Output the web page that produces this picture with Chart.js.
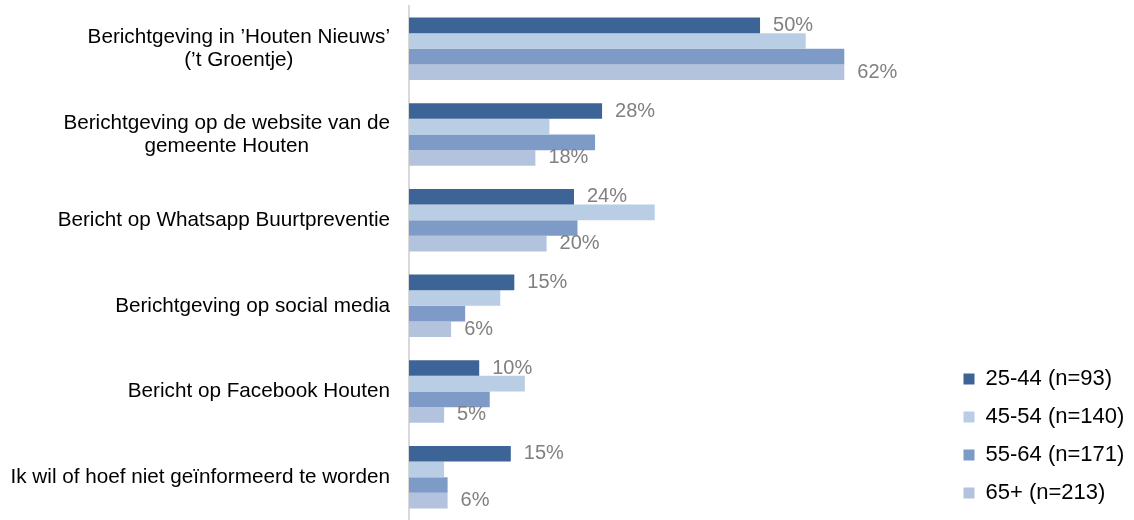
<!DOCTYPE html>
<html>
<head>
<meta charset="utf-8">
<script src="https://cdn.jsdelivr.net/npm/chart.js@4"></script>
<style>
  html, body { margin: 0; padding: 0; background: #fff; overflow: hidden; }
  #wrap { position: relative; width: 1134px; height: 520px; }
</style>
</head>
<body>
<div id="wrap"><canvas id="chart"></canvas></div>
<script>
const categories = [
  ["Berichtgeving in \u2019Houten Nieuws\u2019", "(\u2019t Groentje)"],
  ["Berichtgeving op de website van de", "gemeente Houten"],
  ["Bericht op Whatsapp Buurtpreventie"],
  ["Berichtgeving op social media"],
  ["Bericht op Facebook Houten"],
  ["Ik wil of hoef niet ge\u00efnformeerd te worden"]
];
const seriesNames = ["25-44 (n=93)", "45-54 (n=140)", "55-64 (n=171)", "65+ (n=213)"];
const age2544 = [50, 27.5, 23.5, 15, 10, 14.5];
const age4554 = [56.5, 20, 35, 13, 16.5, 5];
const age5564 = [62, 26.5, 24, 8, 11.5, 5.5];
const age65plus = [62, 18, 19.6, 6, 5, 5.5];
const seriesColors = ["#3c6497", "#b9cde5", "#7e9bc8", "#b3c3de"];
// only the outer series carry value labels
const labelledSeries = [0, 3];

const FONT = "'Liberation Sans', Arial, sans-serif";

// category labels: right-aligned block, lines centred inside it
const categoryLabels = {
  id: 'categoryLabels',
  afterDraw(chart) {
    const ctx = chart.ctx;
    const y = chart.scales.y;
    const right = chart.chartArea.left - 19;
    ctx.save();
    ctx.font = "20.7px " + FONT;
    ctx.fillStyle = "#000";
    ctx.textAlign = "center";
    ctx.textBaseline = "middle";
    categories.forEach((lines, i) => {
      const cy = y.getPixelForValue(i);
      const maxW = Math.max(...lines.map(l => ctx.measureText(l).width));
      const cx = right - maxW / 2;
      lines.forEach((l, j) => {
        ctx.fillText(l, cx, cy + (j - (lines.length - 1) / 2) * 23);
      });
    });
    ctx.restore();
  }
};

// value labels at bar ends
const valueLabels = {
  id: 'valueLabels',
  afterDatasetsDraw(chart) {
    const ctx = chart.ctx;
    ctx.save();
    ctx.font = "20px " + FONT;
    ctx.fillStyle = "#808080";
    ctx.textAlign = "left";
    ctx.textBaseline = "middle";
    labelledSeries.forEach(di => {
      const meta = chart.getDatasetMeta(di);
      meta.data.forEach((bar, i) => {
        const v = chart.data.datasets[di].data[i];
        ctx.fillText(Math.round(v) + "%", bar.x + 13, bar.y);
      });
    });
    ctx.restore();
  }
};

const seriesData = [age2544, age4554, age5564, age65plus];

new Chart(document.getElementById('chart'), {
  type: 'bar',
  data: {
    labels: categories.map(c => c.join(' ')),
    datasets: seriesNames.map((name, i) => ({
      label: name,
      data: seriesData[i],
      backgroundColor: seriesColors[i],
      borderWidth: 0,
      categoryPercentage: 0.73,
      barPercentage: 1.0
    }))
  },
  options: {
    indexAxis: 'y',
    responsive: true,
    maintainAspectRatio: false,
    animation: false,
    layout: { padding: { left: 409, top: 6, bottom: 0, right: 7 } },
    scales: {
      x: { display: false, min: 0, max: 76.7 },
      y: {
        ticks: { display: false },
        grid: { display: false, drawTicks: false },
        border: { display: true, color: '#d9d9d9', width: 2 }
      }
    },
    plugins: {
      legend: {
        position: 'right',
        align: 'end',
        labels: {
          font: { family: FONT, size: 22 },
          color: '#000',
          boxWidth: 11,
          boxHeight: 11,
          padding: 16
        }
      },
      tooltip: { enabled: false }
    }
  },
  plugins: [categoryLabels, valueLabels]
});
</script>
</body>
</html>
